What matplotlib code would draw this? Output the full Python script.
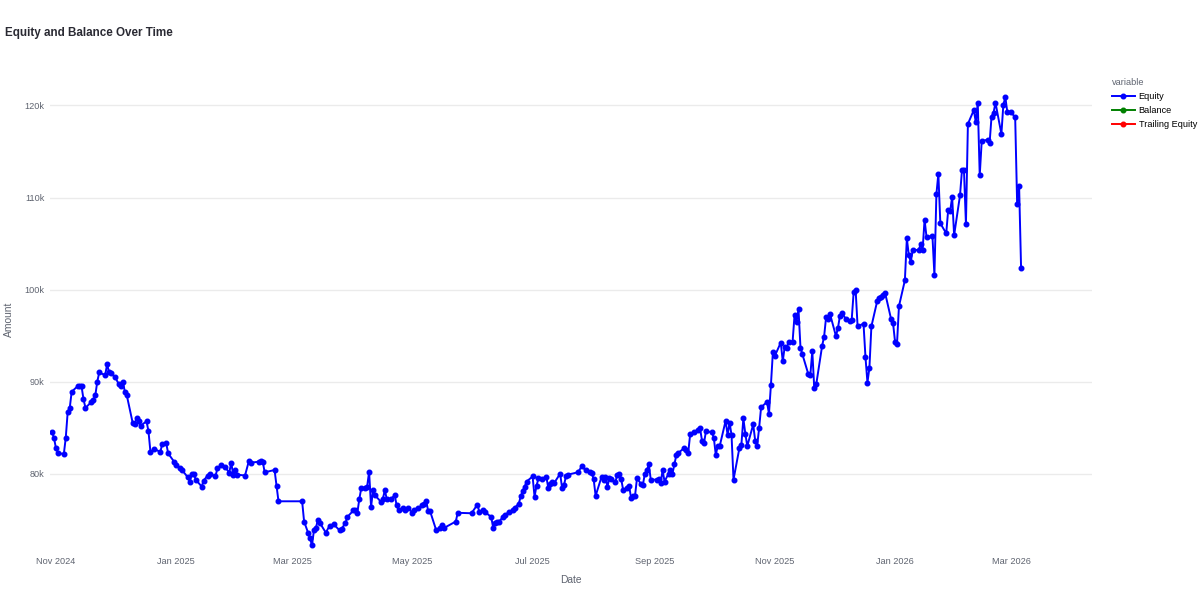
import numpy as np
import pandas as pd
import matplotlib
matplotlib.use("Agg")
import matplotlib.pyplot as plt
import matplotlib.dates as mdates
from matplotlib.ticker import FuncFormatter

# Equity readings (date, amount)
dates = [
    "2024-10-30", "2024-10-31", "2024-11-01", "2024-11-02", "2024-11-05", "2024-11-06", "2024-11-07",
    "2024-11-08", "2024-11-09", "2024-11-12", "2024-11-13", "2024-11-14", "2024-11-15", "2024-11-16",
    "2024-11-19", "2024-11-20", "2024-11-21", "2024-11-22", "2024-11-23", "2024-11-26", "2024-11-27",
    "2024-11-28", "2024-11-29", "2024-12-01", "2024-12-03", "2024-12-04", "2024-12-05", "2024-12-06",
    "2024-12-07", "2024-12-10", "2024-12-11", "2024-12-12", "2024-12-13", "2024-12-14", "2024-12-17",
    "2024-12-18", "2024-12-19", "2024-12-21", "2024-12-24", "2024-12-25", "2024-12-27", "2024-12-28",
    "2024-12-31", "2025-01-01", "2025-01-03", "2025-01-04", "2025-01-07", "2025-01-08", "2025-01-09",
    "2025-01-10", "2025-01-11", "2025-01-14", "2025-01-15", "2025-01-17", "2025-01-18", "2025-01-21",
    "2025-01-22", "2025-01-24", "2025-01-26", "2025-01-28", "2025-01-29", "2025-01-30", "2025-01-31",
    "2025-02-01", "2025-02-05", "2025-02-07", "2025-02-08", "2025-02-12", "2025-02-13", "2025-02-14",
    "2025-02-15", "2025-02-20", "2025-02-21", "2025-02-22", "2025-03-06", "2025-03-07", "2025-03-09",
    "2025-03-10", "2025-03-11", "2025-03-12", "2025-03-13", "2025-03-14", "2025-03-15", "2025-03-18",
    "2025-03-20", "2025-03-22", "2025-03-25", "2025-03-26", "2025-03-28", "2025-03-29", "2025-04-01",
    "2025-04-02", "2025-04-03", "2025-04-04", "2025-04-05", "2025-04-07", "2025-04-08", "2025-04-09",
    "2025-04-10", "2025-04-11", "2025-04-12", "2025-04-15", "2025-04-16", "2025-04-17", "2025-04-18",
    "2025-04-20", "2025-04-22", "2025-04-23", "2025-04-24", "2025-04-26", "2025-04-27", "2025-04-29",
    "2025-05-01", "2025-05-02", "2025-05-04", "2025-05-06", "2025-05-07", "2025-05-08", "2025-05-09",
    "2025-05-10", "2025-05-13", "2025-05-15", "2025-05-16", "2025-05-17", "2025-05-23", "2025-05-24",
    "2025-05-31", "2025-06-03", "2025-06-04", "2025-06-06", "2025-06-07", "2025-06-10", "2025-06-11",
    "2025-06-12", "2025-06-13", "2025-06-14", "2025-06-16", "2025-06-17", "2025-06-19", "2025-06-21",
    "2025-06-22", "2025-06-24", "2025-06-25", "2025-06-26", "2025-06-27", "2025-06-28", "2025-07-01",
    "2025-07-02", "2025-07-03", "2025-07-04", "2025-07-06", "2025-07-08", "2025-07-09", "2025-07-10",
    "2025-07-11", "2025-07-12", "2025-07-15", "2025-07-16", "2025-07-17", "2025-07-18", "2025-07-19",
    "2025-07-24", "2025-07-26", "2025-07-28", "2025-07-30", "2025-07-31", "2025-08-01", "2025-08-02",
    "2025-08-05", "2025-08-06", "2025-08-07", "2025-08-08", "2025-08-09", "2025-08-10", "2025-08-12",
    "2025-08-13", "2025-08-14", "2025-08-15", "2025-08-16", "2025-08-18", "2025-08-19", "2025-08-20",
    "2025-08-21", "2025-08-22", "2025-08-23", "2025-08-25", "2025-08-26", "2025-08-27", "2025-08-28",
    "2025-08-29", "2025-08-30", "2025-09-02", "2025-09-03", "2025-09-04", "2025-09-05", "2025-09-06",
    "2025-09-08", "2025-09-09", "2025-09-10", "2025-09-11", "2025-09-12", "2025-09-13", "2025-09-16",
    "2025-09-17", "2025-09-18", "2025-09-19", "2025-09-21", "2025-09-23", "2025-09-24", "2025-09-25",
    "2025-09-26", "2025-09-27", "2025-09-30", "2025-10-01", "2025-10-02", "2025-10-03", "2025-10-04",
    "2025-10-07", "2025-10-08", "2025-10-09", "2025-10-10", "2025-10-11", "2025-10-14", "2025-10-15",
    "2025-10-16", "2025-10-17", "2025-10-18", "2025-10-21", "2025-10-22", "2025-10-23", "2025-10-24",
    "2025-10-25", "2025-10-28", "2025-10-29", "2025-10-30", "2025-10-31", "2025-11-01", "2025-11-04",
    "2025-11-05", "2025-11-06", "2025-11-07", "2025-11-08", "2025-11-10", "2025-11-11", "2025-11-12",
    "2025-11-13", "2025-11-14", "2025-11-15", "2025-11-18", "2025-11-19", "2025-11-20", "2025-11-21",
    "2025-11-22", "2025-11-25", "2025-11-26", "2025-11-27", "2025-11-28", "2025-11-29", "2025-12-02",
    "2025-12-03", "2025-12-04", "2025-12-05", "2025-12-07", "2025-12-09", "2025-12-10", "2025-12-11",
    "2025-12-12", "2025-12-13", "2025-12-16", "2025-12-17", "2025-12-18", "2025-12-19", "2025-12-20",
    "2025-12-23", "2025-12-24", "2025-12-25", "2025-12-26", "2025-12-27", "2025-12-30", "2025-12-31",
    "2026-01-01", "2026-01-02", "2026-01-03", "2026-01-06", "2026-01-07", "2026-01-08", "2026-01-09",
    "2026-01-10", "2026-01-13", "2026-01-14", "2026-01-15", "2026-01-16", "2026-01-17", "2026-01-20",
    "2026-01-21", "2026-01-22", "2026-01-23", "2026-01-24", "2026-01-27", "2026-01-28", "2026-01-29",
    "2026-01-30", "2026-01-31", "2026-02-03", "2026-02-04", "2026-02-05", "2026-02-06", "2026-02-07",
    "2026-02-10", "2026-02-11", "2026-02-12", "2026-02-13", "2026-02-14", "2026-02-17", "2026-02-18",
    "2026-02-19", "2026-02-20", "2026-02-21", "2026-02-24", "2026-02-25", "2026-02-26", "2026-02-27",
    "2026-03-01", "2026-03-03", "2026-03-04", "2026-03-05", "2026-03-06",
]

equity = [
    84550, 83900, 82800, 82300, 82100, 83900, 86750,
    87100, 88900, 89500, 89500, 89500, 88100, 87150,
    87800, 88000, 88500, 90000, 91000, 90700, 91900,
    91000, 90900, 90500, 89700, 89500, 90000, 88900,
    88500, 85500, 85400, 86000, 85700, 85200, 85700,
    84600, 82350, 82700, 82350, 83250, 83300, 82200,
    81300, 80900, 80600, 80400, 79600, 79100, 80000,
    80000, 79350, 78600, 79250, 79800, 80000, 79700,
    80600, 80900, 80700, 80100, 81200, 79900, 80400,
    79900, 79800, 81400, 81200, 81300, 81400, 81300,
    80150, 80400, 78700, 77000, 77000, 74800, 73600,
    73000, 72200, 73850, 74100, 75000, 74650, 73600,
    74350, 74500, 73850, 74000, 74650, 75300, 76000,
    76000, 75700, 77200, 78400, 78450, 78600, 80200,
    76400, 78200, 77650, 76950, 77300, 78200, 77200,
    77250, 77650, 76550, 76000, 76300, 76000, 76250,
    75750, 76100, 76300, 76550, 76750, 77000, 75950,
    75900, 73900, 74100, 74450, 74100, 74800, 75750,
    75700, 76650, 75800, 76000, 75800, 75300, 74100,
    74600, 74800, 74800, 75300, 75550, 75800, 76000,
    76300, 76750, 77550, 78100, 78600, 79150, 79700,
    77500, 78700, 79500, 79450, 79650, 78400, 78900,
    79150, 79000, 80000, 78400, 78800, 79800, 79900,
    80150, 80800, 80350, 80200, 80100, 79400, 77600,
    79650, 79350, 79650, 78600, 79500, 79400, 79050,
    79900, 80000, 79400, 78200, 78450, 78700, 77350,
    77600, 77600, 79500, 78900, 78800, 80000, 80350,
    81000, 79350, 79350, 79400, 79000, 80350, 79150,
    80000, 80350, 80000, 81000, 82050, 82250, 82800,
    82600, 82250, 84300, 84500, 84700, 84950, 83600,
    83300, 84600, 84500, 83900, 82050, 83000, 83000,
    85750, 84200, 85550, 84200, 79350, 82800, 83150,
    86000, 84350, 83000, 85350, 83600, 83000, 84950,
    87200, 87800, 86500, 89650, 93250, 92800, 94250,
    92200, 93800, 93600, 94350, 94350, 97250, 96500,
    97850, 93700, 92950, 90800, 90700, 93300, 89300,
    89700, 93900, 94900, 97000, 96800, 97350, 94950,
    95800, 97100, 97500, 96800, 96600, 96700, 99750,
    99950, 96000, 96300, 92650, 89900, 91500, 96000,
    98800, 99050, 99200, 99400, 99600, 96800, 96350,
    94350, 94100, 98200, 101000, 105550, 103750, 103000,
    104300, 104300, 104900, 104300, 107600, 105700, 105800,
    101550, 110350, 112600, 107200, 106100, 108700, 108550,
    110050, 105900, 110250, 113000, 112950, 107100, 118000,
    119500, 118200, 120300, 112400, 116100, 116300, 115900,
    118800, 119200, 120300, 116900, 120100, 120900, 119300,
    119250, 118700, 109250, 111200, 102300,
]

# Balance and Trailing Equity have no visible values in the chart
balance = []
trailing_equity = []

series_names = ["Equity", "Balance", "Trailing Equity"]
series_colors = ["#0000ff", "#008000", "#ff0000"]

df = pd.DataFrame({"Date": pd.to_datetime(dates), "Equity": equity})

plt.rcParams["font.family"] = ["Liberation Sans", "DejaVu Sans"]
grey = "#5f6470"

fig = plt.figure(figsize=(12, 6.09), dpi=100)
ax = fig.add_axes([50 / 1200, 1 - 551 / 609, 1042 / 1200, 463 / 609])

ax.plot(df["Date"], df["Equity"], color=series_colors[0], lw=1.4,
        marker="o", ms=3.3, label=series_names[0], zorder=3)
ax.plot(pd.to_datetime(pd.Series(balance, dtype="object")), balance,
        color=series_colors[1], lw=1.4, marker="o", ms=3.3, label=series_names[1])
ax.plot(pd.to_datetime(pd.Series(trailing_equity, dtype="object")), trailing_equity,
        color=series_colors[2], lw=1.4, marker="o", ms=3.3, label=series_names[2])

ax.set_xlim(pd.Timestamp("2024-10-29"), pd.Timestamp("2026-04-11"))
ax.set_ylim(71600, 121900)

ax.xaxis.set_major_locator(mdates.MonthLocator(bymonth=[1, 3, 5, 7, 9, 11]))
ax.xaxis.set_major_formatter(mdates.DateFormatter("%b %Y"))
ax.set_yticks([80000, 90000, 100000, 110000, 120000])
ax.yaxis.set_major_formatter(FuncFormatter(lambda v, p: f"{int(v / 1000)}k"))

ax.grid(axis="y", color="#ebebeb", lw=1)
ax.set_axisbelow(True)
for s in ax.spines.values():
    s.set_visible(False)
ax.tick_params(length=0, labelsize=6.6, colors=grey)
ax.tick_params(axis="x", pad=4.5)
ax.tick_params(axis="y", pad=4)

ax.set_xlabel("Date", fontsize=7.4, color=grey, labelpad=6)
ax.set_ylabel("Amount", fontsize=7.4, color=grey)
ax.yaxis.set_label_coords(-0.035, 0.5)

fig.text(5 / 1200, 1 - 33 / 609, "Equity and Balance Over Time", fontsize=8.4,
         fontweight="bold", color="#2a2a33", va="center", ha="left")

leg = fig.legend(loc="upper left", bbox_to_anchor=(1112 / 1200, 1 - 78 / 609), frameon=False,
                 title="variable", alignment="left", fontsize=6.6, title_fontsize=6.6,
                 handlelength=2.5, handletextpad=0.4, labelspacing=0.55,
                 borderaxespad=0, borderpad=0)
leg.get_title().set_color(grey)

fig.savefig("out.png", dpi=100)
